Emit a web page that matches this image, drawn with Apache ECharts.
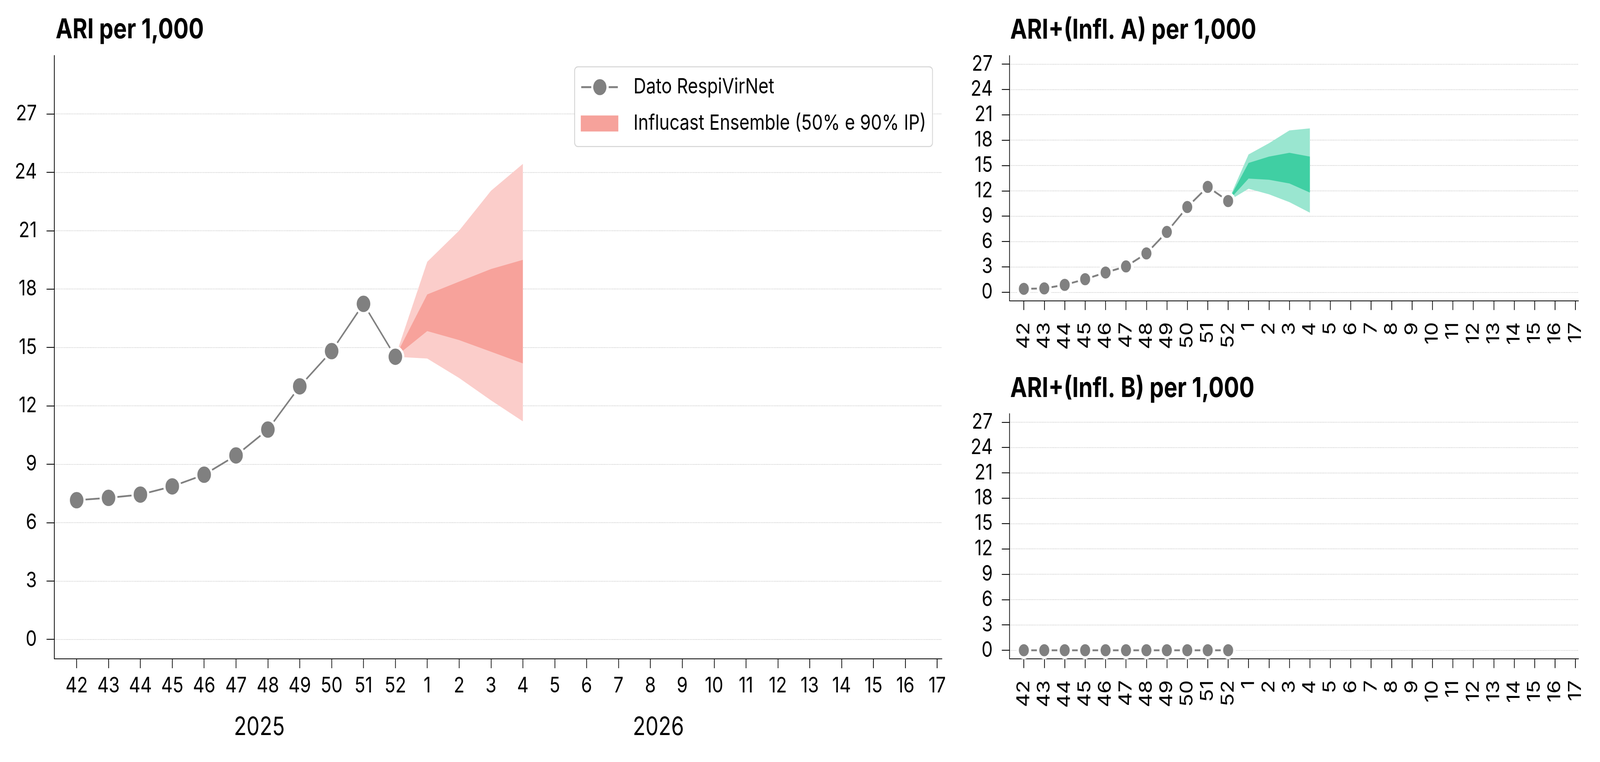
<!DOCTYPE html>
<html><head><meta charset="utf-8">
<script src="https://cdn.jsdelivr.net/npm/echarts@6/dist/echarts.min.js"></script>
<style>html,body{margin:0;padding:0;background:#fff;overflow:hidden;width:100%;height:100%}
#c{width:4948px;height:1950px;transform-origin:0 0;position:absolute;left:0;top:0}</style>
</head><body><div id="c"></div>
<script>
// ---- data ----
const weeks = ['42','43','44','45','46','47','48','49','50','51','52','1','2','3','4','5','6','7','8','9','10','11','12','13','14','15','16','17'];
const obsWeeks = ['42','43','44','45','46','47','48','49','50','51','52'];
const fcWeeks = ['52','1','2','3','4'];
const yTicks = [0,3,6,9,12,15,18,21,24,27];

const ariObs  = [7.15,7.27,7.44,7.86,8.46,9.45,10.78,13.0,14.81,17.24,14.52];
const ariLo90 = [14.52,14.43,13.43,12.28,11.2];
const ariLo50 = [14.52,15.84,15.38,14.78,14.18];
const ariHi50 = [14.52,17.72,18.38,19.03,19.5];
const ariHi90 = [14.52,19.4,21.0,23.05,24.43];

const infAObs  = [0.40,0.45,0.87,1.54,2.33,3.05,4.59,7.13,10.08,12.47,10.79];
const infALo90 = [10.79,12.25,11.59,10.66,9.41];
const infALo50 = [10.79,13.45,13.31,12.87,11.8];
const infAHi50 = [10.79,15.3,16.05,16.5,16.05];
const infAHi90 = [10.79,16.31,17.64,19.15,19.39];

const infBObs = [0,0,0,0,0,0,0,0,0,0,0];

const titles = ['ARI per 1,000','ARI+(Infl. A) per 1,000','ARI+(Infl. B) per 1,000'];
const years = ['2025','2026'];
const legendNames = ['Dato RespiVirNet','Influcast Ensemble (50% e 90% IP)'];

// ---- fit the 4948x1950 design to the actual viewport ----
const W = 4948, H = 1950;
const box = document.getElementById('c');
const sx = window.innerWidth / W, sy = window.innerHeight / H;
box.style.transform = 'scale(' + sx + ',' + sy + ')';

const FONT = 'Inter';
const tickIdx = weeks.map((w,i)=>i);
const obsX = obsWeeks.map(w=>weeks.indexOf(w));
const fcX = fcWeeks.map(w=>weeks.indexOf(w));

function xAxisCfg(g, rotate, margin){
  return {type:'value', gridIndex:g, min:-0.7, max:27.15,
    axisLine:{show:true,onZero:false,lineStyle:{color:'#000',width:2.2}},
    axisTick:{show:true,length:24,customValues:tickIdx,lineStyle:{color:'#000',width:2.2}},
    axisLabel:{customValues:tickIdx,formatter:v=>weeks[Math.round(v)],rotate:rotate,
      fontSize:55,fontFamily:FONT,color:'#000',margin:margin},
    splitLine:{show:false}};
}
function yAxisCfg(g, max, margin){
  return {type:'value', gridIndex:g, min:-1, max:max,
    axisLine:{show:true,onZero:false,lineStyle:{color:'#000',width:2.2}},
    axisTick:{show:true,length:24,customValues:yTicks,lineStyle:{color:'#000',width:2.2}},
    axisLabel:{customValues:yTicks,fontSize:55,fontFamily:FONT,color:'#000',margin:margin},
    splitLine:{show:true,lineStyle:{color:'#c8c8c8',width:1.3,type:[3,2]}}};
}
function band(g, lo, hi, color, name){
  return {type:'custom', name:name, xAxisIndex:g, yAxisIndex:g, silent:true, z:2,
    itemStyle:{color:color},
    data: fcX.map((x,i)=>[x, lo[i], hi[i]]),
    encode:{x:0, y:[1,2]},
    renderItem:function(params, api){
      if (params.dataIndexInside !== 0) return null;
      const n = params.dataInsideLength;
      const top = [], bot = [];
      for (let i=0;i<n;i++){
        top.push(api.coord([api.value(0,i), api.value(2,i)]));
        bot.push(api.coord([api.value(0,i), api.value(1,i)]));
      }
      return {type:'polygon', shape:{points: top.concat(bot.reverse())}, style:{fill:color}};
    }};
}
function obsSeries(g, vals, name, size, bw, lw){
  return {type:'line', name:name, xAxisIndex:g, yAxisIndex:g, symbol:'circle', symbolSize:size,
    itemStyle:{color:'#808080',borderColor:'#ffffff',borderWidth:bw},
    lineStyle:{color:'#808080',width:lw,type:'solid'},
    data: obsX.map((x,i)=>[x,vals[i]]), z:5};
}

const chart = echarts.init(box, null, {renderer:'canvas', width:W, height:H});
const series = [
  band(0, ariLo90, ariHi90, '#fbcdca', 'a90band'),
  band(0, ariLo50, ariHi50, '#f7a29b', legendNames[1]),
  band(1, infALo90, infAHi90, '#9ae6d0', 'b90band'),
  band(1, infALo50, infAHi50, '#40cfa3', 'b50band'),
  obsSeries(0, ariObs, legendNames[0], 48.7, 6.7, 4.5),
  obsSeries(1, infAObs, 'obsA', 38.5, 7.5, 4.8),
  obsSeries(2, infBObs, 'obsB', 38.5, 7.5, 4.8)
];

const legendLineIcon = 'path://M0,18.5L32,18.5L32,23.5L0,23.5Z M87,18.5L116,18.5L116,23.5L87,23.5Z M38,21A21,21 0 1,0 80,21A21,21 0 1,0 38,21Z';

const option = {
  animation:false,
  backgroundColor:'#ffffff',
  grid:[
    {left:168, top:142, width:2745, height:1544},
    {left:3122, top:142.4, width:1759.5, height:627},
    {left:3122, top:1058.7, width:1759.5, height:627}
  ],
  xAxis:[xAxisCfg(0,0,42), xAxisCfg(1,90,55), xAxisCfg(2,90,55)],
  yAxis:[yAxisCfg(0,30,54), yAxisCfg(1,28,52), yAxisCfg(2,28,52)],
  legend:{
    show:true, orient:'vertical', left:1777, top:171,
    data:[{name:legendNames[0], icon:legendLineIcon, itemStyle:{color:'#808080',borderWidth:0}},
          {name:legendNames[1], icon:'rect', itemStyle:{color:'#f6a29b'}}],
    itemWidth:116, itemHeight:41, itemGap:39,
    padding:[25,20,32,19],
    borderColor:'#d4d4d4', borderWidth:2.5, borderRadius:10, backgroundColor:'#ffffff',
    textStyle:{fontSize:54,fontFamily:FONT,color:'#000',lineHeight:41,padding:[0,0,0,42]},
    selectedMode:false
  },
  graphic:[
    {type:'text', x:172, y:77, silent:true, z:10,
     style:{text:titles[0], font:'bold 70px Inter', fill:'#000', verticalAlign:'middle', align:'left'}},
    {type:'text', x:3124, y:78, silent:true, z:10,
     style:{text:titles[1], font:'bold 70px Inter', fill:'#000', verticalAlign:'middle', align:'left'}},
    {type:'text', x:3124, y:995, silent:true, z:10,
     style:{text:titles[2], font:'bold 70px Inter', fill:'#000', verticalAlign:'middle', align:'left'}},
    {type:'text', x:802, y:1862, silent:true, z:10,
     style:{text:years[0], font:'64px Inter', fill:'#000', verticalAlign:'middle', align:'center'}},
    {type:'text', x:2036, y:1862, silent:true, z:10,
     style:{text:years[1], font:'64px Inter', fill:'#000', verticalAlign:'middle', align:'center'}}
  ],
  series: series
};
chart.setOption(option);
</script></body></html>
